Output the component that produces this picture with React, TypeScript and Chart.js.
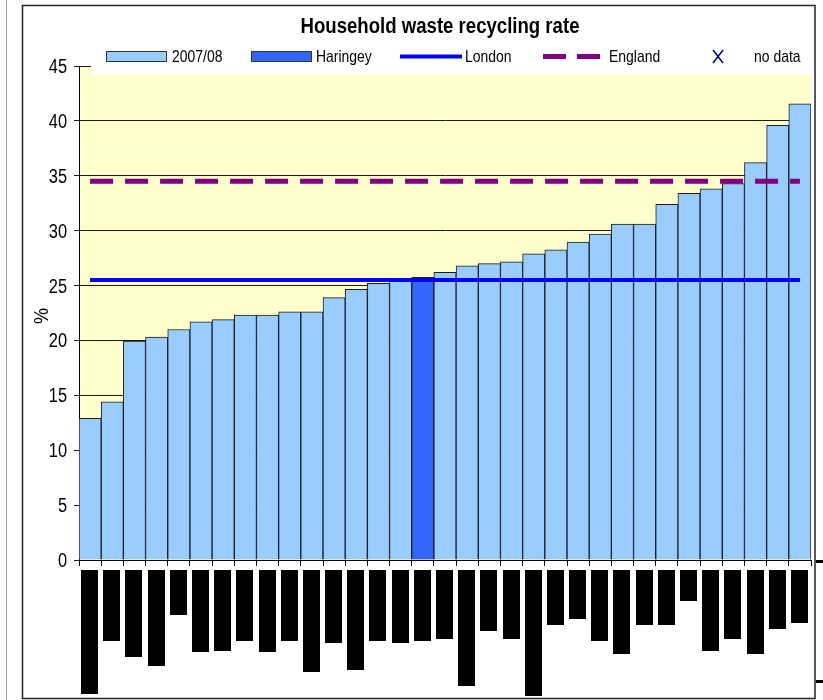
import React, { useEffect, useRef } from "react";
import { Chart, registerables } from "chart.js";

Chart.register(...registerables);

// Borough codes (ordered by 2007/08 rate); the printed names are masked out as solid blocks
const categories = [
  "B01", "B02", "B03", "B04", "B05", "B06", "B07", "B08", "B09", "B10", "B11",
  "B12", "B13", "B14", "B15", "B16", "B17", "B18", "B19", "B20", "B21", "B22",
  "B23", "B24", "B25", "B26", "B27", "B28", "B29", "B30", "B31", "B32", "B33",
];

// Household waste recycling rate 2007/08, %
const recyclingRate = [
  12.9, 14.4, 19.95, 20.3, 21.0, 21.7, 21.9, 22.3, 22.3, 22.6, 22.6,
  23.9, 24.65, 25.2, 25.65, 25.75, 26.2, 26.8, 27.0, 27.15, 27.9, 28.25,
  28.95, 29.7, 30.6, 30.6, 32.4, 33.4, 33.8, 34.3, 36.2, 39.6, 41.55,
];

const haringeyIndex = 15;
const londonRate = 25.5;
const englandRate = 34.5;

const yTicks = [0, 5, 10, 15, 20, 25, 30, 35, 40, 45];

// Depth (px) of each masked category label below the axis
const maskedLabelDepth = [
  124, 71, 87, 96, 45, 82, 81, 71, 82, 71, 102,
  73, 100, 71, 73, 71, 69, 116, 61, 69, 126, 55,
  49, 71, 84, 55, 55, 31, 81, 69, 84, 59, 53,
];

const FONT = '"Liberation Sans", Arial, sans-serif';
const NARROW_SCALE = 0.82;

const chartTitle = "Household waste recycling rate";

// draw text squeezed horizontally, in the manner of a narrow face
function narrowText(
  ctx: CanvasRenderingContext2D,
  text: string,
  x: number,
  y: number,
  size: number,
  opts: { bold?: boolean; align?: CanvasTextAlign; baseline?: CanvasTextBaseline; scale?: number } = {}
) {
  ctx.save();
  ctx.translate(x, y);
  ctx.scale(opts.scale ?? NARROW_SCALE, 1);
  ctx.font = `${opts.bold ? "bold " : ""}${size}px ${FONT}`;
  ctx.textAlign = opts.align ?? "left";
  ctx.textBaseline = opts.baseline ?? "alphabetic";
  ctx.fillStyle = "#000";
  ctx.fillText(text, 0, 0);
  ctx.restore();
}

const decorPlugin = {
  id: "decor",
  beforeDraw(chart: any) {
    const { ctx, chartArea: a } = chart;
    ctx.save();
    ctx.fillStyle = "#ffffff";
    ctx.fillRect(0, 0, chart.width, chart.height);
    ctx.fillStyle = "#FFFFCC";
    ctx.fillRect(a.left, a.top, a.right - a.left, a.bottom - a.top);
    ctx.restore();
  },
  afterDraw(chart: any) {
    const { ctx, chartArea: a } = chart;
    const xs = chart.scales.x;
    const ys = chart.scales.y;
    const ds = chart.data.datasets;
    ctx.save();

    // legend band laid over the top of the plot
    ctx.fillStyle = "#ffffff";
    ctx.fillRect(91, 36, 724, 39);

    // title
    narrowText(ctx, chartTitle, 440, 33, 22, { bold: true, align: "center", scale: 0.845 });

    // y tick labels
    yTicks.forEach((v) => {
      narrowText(ctx, String(v), a.left - 12, ys.getPixelForValue(v) + 7, 20, { align: "right" });
    });

    // y axis title
    ctx.save();
    ctx.translate(48, 316);
    ctx.rotate(-Math.PI / 2);
    narrowText(ctx, "%", 0, 0, 20, { align: "center", scale: 0.9 });
    ctx.restore();

    // legend entries
    const ly = 56.5;
    const base = 62;
    const swatch = (x: number, color: string) => {
      ctx.fillStyle = color;
      ctx.fillRect(x, 51, 61, 10);
      ctx.strokeStyle = "#333";
      ctx.lineWidth = 1;
      ctx.strokeRect(x + 0.5, 51.5, 60, 10);
    };
    swatch(106, ds[2].backgroundColor);
    narrowText(ctx, ds[2].label, 172, base, 17);
    swatch(251, ds[3].backgroundColor);
    narrowText(ctx, ds[3].label, 316, base, 17);

    // London line
    ctx.strokeStyle = ds[0].borderColor;
    ctx.lineWidth = 4;
    ctx.beginPath();
    ctx.moveTo(400, ly);
    ctx.lineTo(462, ly);
    ctx.stroke();
    narrowText(ctx, ds[0].label, 465, base, 17);

    // England dashes
    ctx.strokeStyle = ds[1].borderColor;
    ctx.lineWidth = 5;
    ctx.beginPath();
    ctx.moveTo(543, ly);
    ctx.lineTo(566, ly);
    ctx.moveTo(577, ly);
    ctx.lineTo(600, ly);
    ctx.stroke();
    narrowText(ctx, ds[1].label, 609, base, 17);

    // no data marker
    ctx.strokeStyle = "#000080";
    ctx.lineWidth = 1.5;
    ctx.beginPath();
    ctx.moveTo(713, 50);
    ctx.lineTo(723, 63);
    ctx.moveTo(723, 50);
    ctx.lineTo(713, 63);
    ctx.stroke();
    narrowText(ctx, ds[4].label, 754, base, 17);

    // masked category labels
    ctx.fillStyle = "#000";
    maskedLabelDepth.forEach((d, i) => {
      const cx = xs.getPixelForValue(i) - 0.5;
      ctx.fillRect(Math.round(cx - 8.5), a.bottom + 10, 17, d);
    });

    // outer frame
    ctx.strokeStyle = "#9a9a9a";
    ctx.lineWidth = 1;
    ctx.beginPath();
    ctx.moveTo(6.5, 0);
    ctx.lineTo(6.5, chart.height);
    ctx.stroke();
    ctx.strokeStyle = "#222";
    ctx.lineWidth = 1.5;
    ctx.strokeRect(22.5, 5.5, 792.5, 693);

    // edge of a neighbouring axis
    ctx.fillStyle = "#000";
    ctx.fillRect(816, 560, 7, 3);
    ctx.fillRect(816, 680, 7, 3);

    ctx.restore();
  },
};

export default function App() {
  const ref = useRef<HTMLCanvasElement | null>(null);

  useEffect(() => {
    document.body.style.margin = "0";
    document.body.style.overflow = "hidden";
    const canvas = ref.current;
    if (!canvas) return;

    const mainBars = recyclingRate.map((v, i) => (i === haringeyIndex ? null : v));
    const haringeyBar = recyclingRate.map((v, i) => (i === haringeyIndex ? v : null));

    const chart = new Chart(canvas, {
      type: "bar",
      data: {
        labels: categories,
        datasets: [
          {
            type: "line",
            label: "London",
            data: categories.map(() => londonRate),
            borderColor: "#0000FF",
            borderWidth: 4,
            pointRadius: 0,
            borderCapStyle: "butt",
            order: 0,
          } as any,
          {
            type: "line",
            label: "England",
            data: categories.map(() => englandRate),
            borderColor: "#800080",
            borderWidth: 5,
            borderDash: [23, 12],
            pointRadius: 0,
            borderCapStyle: "butt",
            order: 0,
          } as any,
          {
            label: "2007/08",
            data: mainBars,
            backgroundColor: "#99CCFF",
            borderColor: "#1c1c1c",
            borderWidth: 1,
            grouped: false,
            categoryPercentage: 1,
            barPercentage: 1,
            order: 1,
          } as any,
          {
            label: "Haringey",
            data: haringeyBar,
            backgroundColor: "#3366FF",
            borderColor: "#1c1c1c",
            borderWidth: 1,
            grouped: false,
            categoryPercentage: 1,
            barPercentage: 1,
            order: 1,
          } as any,
          {
            type: "line",
            label: "no data",
            data: categories.map(() => null),
            borderColor: "#000080",
            pointStyle: "crossRot",
            showLine: false,
            order: 0,
          } as any,
        ],
      },
      options: {
        responsive: false,
        animation: false,
        devicePixelRatio: 1,
        layout: { padding: { top: 66, right: 12, left: 0, bottom: 0 } },
        plugins: {
          legend: { display: false },
          tooltip: { enabled: false },
          title: { display: false },
        },
        scales: {
          x: {
            type: "category",
            offset: true,
            grid: {
              offset: true,
              drawOnChartArea: false,
              drawTicks: true,
              tickLength: 6,
              color: "#000",
              lineWidth: 1,
            },
            border: { display: true, color: "#000", width: 1 },
            ticks: { display: false },
            afterFit: (s: any) => {
              s.height = 140;
            },
          },
          y: {
            min: 0,
            max: 45,
            afterBuildTicks: (s: any) => {
              s.ticks = yTicks.map((v) => ({ value: v }));
            },
            ticks: { display: false },
            grid: {
              color: "#1a1a1a",
              lineWidth: 1,
              tickLength: 5,
              drawTicks: true,
            },
            border: { display: true, color: "#000", width: 1 },
            afterFit: (s: any) => {
              s.width = 79;
            },
          },
        },
      },
      plugins: [decorPlugin],
    });

    return () => chart.destroy();
  }, []);

  return (
    <div style={{ width: 823, height: 700, position: "relative" }}>
      <canvas ref={ref} width={823} height={700} style={{ display: "block" }} />
    </div>
  );
}
